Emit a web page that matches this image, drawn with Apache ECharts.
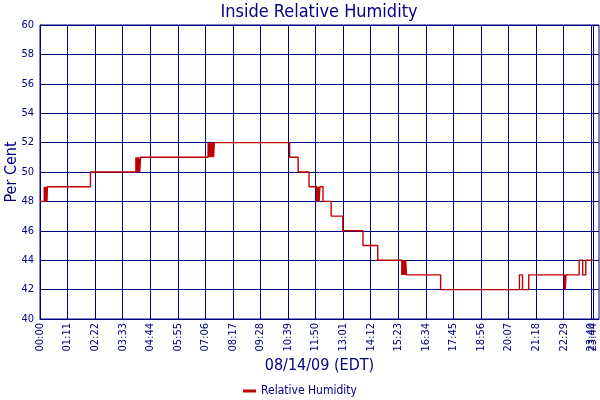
<!DOCTYPE html>
<html>
<head>
<meta charset="utf-8">
<script src="https://cdn.jsdelivr.net/npm/echarts@6/dist/echarts.min.js"></script>
<style>html,body{margin:0;padding:0;background:#fff}#chart{width:600px;height:400px}</style>
</head>
<body>
<div id="chart"></div>
<script>
// minutes after midnight where a new reading starts
var times = [0, 11, 12, 13, 14, 15, 16, 17, 18, 19, 130,
    247, 249, 251, 253, 255, 257, 259,
    433, 435, 437, 439, 441, 443, 445, 447, 449,
    643, 665, 693, 713, 715, 717, 718, 719, 721, 729, 750, 780, 832, 870,
    932, 934, 936, 938, 940, 942, 944,
    1032, 1235, 1243, 1259, 1351, 1352, 1353, 1355, 1389, 1398, 1406, 1424];
// relative humidity (%) from that minute on
var humidity = [48, 49, 48, 49, 48, 49, 48, 49, 48, 49, 50,
    51, 50, 51, 50, 51, 50, 51,
    52, 51, 52, 51, 52, 51, 52, 51, 52,
    51, 50, 49, 48, 49, 48, 49, 48, 49, 48, 47, 46, 45, 44,
    43, 44, 43, 44, 43, 44, 43,
    42, 43, 42, 43, 42, 43, 42, 43, 44, 43, 44, 44];
// x tick labels (minutes); the last reading gets its own label
var tickMinutes = [0, 71, 142, 213, 284, 355, 426, 497, 568, 639, 710,
    781, 852, 923, 994, 1065, 1136, 1207, 1278, 1349, 1420];
var lastTick = [1424];

var navy = '#000080';
var font = 'DejaVu Sans Condensed';

function hhmm(m) {
    var h = Math.floor(m / 60), mm = m % 60;
    return (h < 10 ? '0' : '') + h + ':' + (mm < 10 ? '0' : '') + mm;
}

var labelStyle = {
    rotate: 90, margin: 4, hideOverlap: false,
    fontFamily: font, fontSize: 11, color: navy,
    formatter: function (v) { return hhmm(v); }
};

var chart = echarts.init(document.getElementById('chart'));
chart.setOption({
    animation: false,
    textStyle: { fontFamily: font, color: navy },
    title: {
        text: 'Inside Relative Humidity',
        left: 314, top: -2, textAlign: 'center',
        textStyle: { fontFamily: font, fontSize: 18, fontWeight: 'normal', color: navy }
    },
    legend: {
        top: 380, left: 'center',
        icon: 'rect', itemWidth: 13, itemHeight: 3, itemGap: 5,
        textStyle: { fontFamily: font, fontSize: 12, color: navy },
        data: ['Relative Humidity']
    },
    grid: {
        left: 40, right: 1, top: 25, bottom: 81,
        outerBoundsMode: 'none', containLabel: false,
        show: true, borderColor: navy, borderWidth: 1
    },
    xAxis: [{
        type: 'value', min: 0, max: 1440,
        name: '08/14/09 (EDT)', nameLocation: 'middle', nameGap: 39,
        nameMoveOverlap: false,
        nameTextStyle: { fontFamily: font, fontSize: 16, color: navy },
        axisLine: { lineStyle: { color: navy, width: 1 } },
        axisTick: { show: false, customValues: tickMinutes },
        axisLabel: Object.assign({ customValues: tickMinutes }, labelStyle),
        splitLine: { show: true, lineStyle: { color: navy, width: 1 } }
    }, {
        type: 'value', min: 0, max: 1440, position: 'bottom', offset: 0,
        axisLine: { show: false },
        axisTick: { show: false, customValues: lastTick },
        axisLabel: Object.assign({ customValues: lastTick }, labelStyle),
        splitLine: { show: true, lineStyle: { color: navy, width: 1 } }
    }],
    yAxis: {
        type: 'value', min: 40, max: 60, interval: 2,
        name: 'Per Cent', nameLocation: 'middle', nameGap: 20,
        nameMoveOverlap: false,
        nameTextStyle: { fontFamily: font, fontSize: 16, color: navy },
        axisLine: { show: true, lineStyle: { color: navy, width: 1 } },
        axisTick: { show: false },
        axisLabel: { fontFamily: font, fontSize: 11, color: navy, margin: 6 },
        splitLine: { show: true, lineStyle: { color: navy, width: 1 } }
    },
    series: [{
        name: 'Relative Humidity',
        type: 'line', step: 'end', xAxisIndex: 0,
        showSymbol: false,
        color: '#c00000',
        lineStyle: { color: '#c00000', width: 1.4 },
        data: times.map(function (t, i) { return [t, humidity[i]]; })
    }]
});
</script>
</body>
</html>
